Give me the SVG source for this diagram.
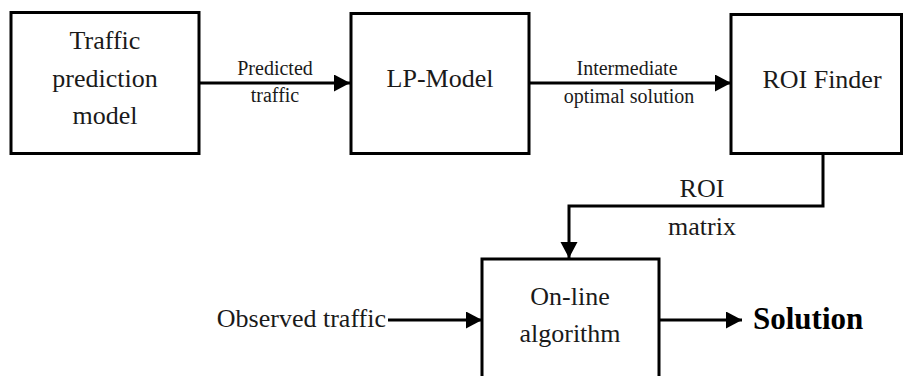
<svg xmlns="http://www.w3.org/2000/svg" width="903" height="376" viewBox="0 0 903 376">
  <style>
    .box { fill: #ffffff; stroke: #000000; stroke-width: 3; }
    .wire { fill: none; stroke: #000000; stroke-width: 3; }
    .main { font-family: "Liberation Serif", "DejaVu Serif", serif; font-size: 26px; fill: #1a1a1a; text-anchor: middle; }
    .label { font-family: "Liberation Serif", "DejaVu Serif", serif; font-size: 20px; fill: #1a1a1a; text-anchor: middle; }
    .bold { font-family: "Liberation Serif", "DejaVu Serif", serif; font-size: 31px; font-weight: bold; fill: #000000; }
  </style>
  <defs>
    <marker id="head" markerUnits="userSpaceOnUse" markerWidth="17" markerHeight="18" refX="16" refY="8.5" orient="auto">
      <path d="M0,0 L16,8.5 L0,17 Z" fill="#000000"/>
    </marker>
  </defs>
  <rect width="903" height="376" fill="#ffffff"/>

  <!-- wires and their labels -->
  <g id="connectors">
    <path class="wire" d="M199,83 H350" marker-end="url(#head)"/>
    <path class="wire" d="M529,83 H731" marker-end="url(#head)"/>
    <path class="wire" d="M823,153 V206 H569 V258" marker-end="url(#head)"/>
    <path class="wire" d="M388,320 H482" marker-end="url(#head)"/>
    <path class="wire" d="M659,320 H742" marker-end="url(#head)"/>
    <text class="label" x="275" y="75">Predicted</text>
    <text class="label" x="275" y="102">traffic</text>
    <text class="label" x="627" y="75">Intermediate</text>
    <text class="label" x="629" y="103">optimal solution</text>
    <text class="main" x="702" y="197">ROI</text>
    <text class="main" x="702" y="235">matrix</text>
  </g>

  <g id="traffic-prediction">
    <rect class="box" x="11" y="12.5" width="188" height="141"/>
    <text class="main" x="105" y="49">Traffic</text>
    <text class="main" x="105" y="87">prediction</text>
    <text class="main" x="105" y="124">model</text>
  </g>

  <g id="lp-model">
    <rect class="box" x="351" y="13.5" width="178" height="140"/>
    <text class="main" x="440" y="87">LP-Model</text>
  </g>

  <g id="roi-finder">
    <rect class="box" x="731" y="14.5" width="170.5" height="139"/>
    <text class="main" x="822" y="88">ROI Finder</text>
  </g>

  <!-- lower box runs past the bottom edge -->
  <g id="online-algorithm">
    <rect class="box" x="482" y="259" width="177" height="130"/>
    <text class="main" x="570" y="305">On-line</text>
    <text class="main" x="570" y="342">algorithm</text>
  </g>

  <g id="observed-traffic">
    <text class="main" x="386" y="327" style="text-anchor:end">Observed traffic</text>
  </g>

  <g id="solution">
    <text class="bold" x="753" y="329">Solution</text>
  </g>
</svg>
